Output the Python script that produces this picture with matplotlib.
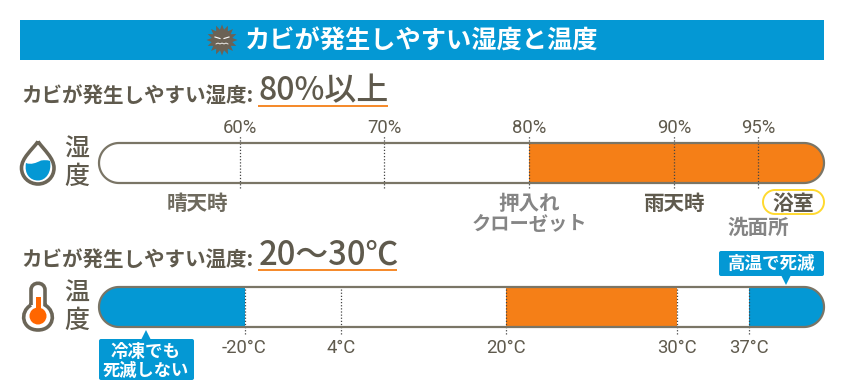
import matplotlib
matplotlib.use("Agg")
import matplotlib.pyplot as plt
import numpy as np
from matplotlib.patches import FancyBboxPatch, Rectangle, Circle, PathPatch, Polygon
from matplotlib.path import Path

plt.rcParams['font.family'] = ['Noto Sans CJK JP', 'DejaVu Sans']

title = "カビが発生しやすい湿度と温度"
sub_hum = "カビが発生しやすい湿度:"
sub_tmp = "カビが発生しやすい温度:"
big_hum = "80%以上"
big_tmp = "20〜30℃"

# humidity bar
hum_ticks = [60, 70, 80, 90, 95]
hum_labels = ["60%", "70%", "80%", "90%", "95%"]
hum_range = [50, 100]
hum_risk = [80, 100]
# temperature bar
tmp_ticks = [-20, 4, 20, 30, 37]
tmp_labels = ["-20°C", "4°C", "20°C", "30°C", "37°C"]
tmp_range = [-50, 60]
tmp_risk = [20, 30]
tmp_cold = [-50, -20]
tmp_hot = [37, 60]

# the scales are uneven, these are the pixel places of the ticks
hum_px = [99, 240, 384.5, 529, 674, 758, 824]
tmp_px = [99, 244.5, 341, 506, 677, 749, 824]

BLUE = "#0498d4"
ORANGE = "#f57f17"
DARK = "#5f5a4d"
LINE = "#7a7566"
GRAY = "#858585"

W, H = 844, 390
fig = plt.figure(figsize=(W / 100, H / 100), dpi=100)
px = fig.add_axes([0, 0, 1, 1])
px.set_xlim(0, W)
px.set_ylim(H, 0)
px.axis("off")


def stadium(x0, x1, y0, y1):
    # outline with fully round ends
    r = (y1 - y0) / 2
    a = np.linspace(-np.pi / 2, np.pi / 2, 40)
    right = np.c_[x1 - r + r * np.cos(a), y0 + r + r * np.sin(a)]
    left = np.c_[x0 + r - r * np.cos(a[::-1]), y0 + r + r * np.sin(a[::-1])]
    return np.vstack([right, left])


def bar_axes(top, vals, places, xlim):
    ax = fig.add_axes([99 / W, 1 - (top + 40) / H, 725 / W, 40 / H])
    ax.patch.set_alpha(0)
    vals = np.array(vals, dtype=float)
    places = np.array(places, dtype=float)
    ax.set_xscale("function", functions=(lambda v: np.interp(v, vals, places),
                                         lambda p: np.interp(p, places, vals)))
    ax.set_xlim(xlim)
    ax.set_ylim(0, 1)
    for s in ax.spines.values():
        s.set_visible(False)
    ax.set_yticks([])
    outline = stadium(99, 824, top, top + 40)
    shape = Polygon(outline, transform=px.transData, fc="white", ec="none")
    edge = Polygon(outline, transform=px.transData, fc="none", ec=LINE, lw=1.6, zorder=6, clip_on=False)
    ax.add_artist(shape)
    ax.add_artist(edge)
    return ax, shape


def ticks(ax, vals, labels, side, low, high, pad):
    ax.set_xticks(vals)
    ax.set_xticklabels(labels, fontsize=13.3, color=DARK, family=['Roboto', 'Noto Sans CJK JP'])
    ax.tick_params(axis="x", length=0, pad=pad, top=side == "top", bottom=side == "bottom",
                   labeltop=side == "top", labelbottom=side == "bottom")
    ax.minorticks_off()
    ax.vlines(vals, low, high, color="#444444", lw=0.9, linestyles=(0, (1, 1.5)),
              clip_on=False, zorder=5)


def band(ax, shape, span, color):
    b = ax.barh(0.5, span[1] - span[0], left=span[0], height=1, color=color, zorder=2)
    for r in b:
        r.set_clip_path(shape)


def under(x0, x1, y):
    px.plot([x0, x1], [y, y], color=ORANGE, lw=1.3, solid_capstyle="butt")


def callout(x0, x1, y0, y1, tip_x, tip_y, base_y):
    px.add_patch(FancyBboxPatch((x0 + 2, y0 + 2), x1 - x0 - 4, y1 - y0 - 4,
                                boxstyle="round,pad=2,rounding_size=2", fc=BLUE, ec="none"))
    px.add_patch(Polygon([(tip_x - 5, base_y), (tip_x + 5, base_y), (tip_x, tip_y)], fc=BLUE, ec="none"))


# header
px.add_patch(Rectangle((20, 20), 804, 40, fc=BLUE, ec="none"))
px.text(422, 41, title, color="white", fontsize=18.2, fontweight="bold", ha="center", va="center")

# mold icon
ang = np.linspace(0, 2 * np.pi, 32, endpoint=False)
rad = np.where(np.arange(32) % 2 == 0, 15.5, 10.5)
px.add_patch(Polygon(np.c_[222 + rad * np.cos(ang), 40 + rad * np.sin(ang)], fc="#6b6255", ec="none"))
for sx in (-1, 1):
    px.plot([222 + sx * 2, 222 + sx * 7], [38.5, 37], color="white", lw=0.8)
px.plot(np.arange(216, 229, 2), [44, 43, 44, 43, 44, 43, 44], color="white", lw=0.6)

# subtitles
px.text(21, 96.5, sub_hum, color=DARK, fontsize=14.8, fontweight="bold", ha="left", va="center")
px.text(258, 91, big_hum, color=DARK, fontsize=23, fontweight="medium", ha="left", va="center")
under(258, 388, 106)
px.text(21, 260, sub_tmp, color=DARK, fontsize=14.8, fontweight="bold", ha="left", va="center")
px.text(259, 255, big_tmp, color=DARK, fontsize=23.6, fontweight="medium", ha="left", va="center")
under(258, 397, 270)

# left labels
for y, c in zip((150, 177), "湿度"):
    px.text(76.5, y, c, color=DARK, fontsize=18, fontweight="medium", ha="center", va="center")
for y, c in zip((294, 321), "温度"):
    px.text(76.5, y, c, color=DARK, fontsize=18, fontweight="medium", ha="center", va="center")

# drop icon
drop = Path([(38, 141.5), (32, 150), (21.5, 158), (21.5, 168), (21.5, 177), (29, 184), (38, 184),
             (47, 184), (54, 177), (54, 168), (54, 158), (44, 150), (38, 141.5)],
            [Path.MOVETO] + [Path.CURVE4] * 12)
water = Path([(26, 163), (31, 165), (36, 163), (41, 160.5), (45, 160), (48, 160), (50, 161),
              (52, 172), (46, 180.5), (38, 180.5), (30, 180.5), (24, 174), (26, 163)],
             [Path.MOVETO] + [Path.CURVE4] * 12)
px.add_patch(PathPatch(water, fc=BLUE, ec="none"))
px.add_patch(PathPatch(drop, fc="none", ec="#6b6557", lw=2.6))

# thermometer icon
th = Path([(31, 305), (31, 290), (31, 281), (45, 281), (45, 290), (45, 305),
           (57, 312), (54, 330), (38, 330), (22, 330), (19, 312), (31, 305)],
          [Path.MOVETO, Path.LINETO, Path.CURVE4, Path.CURVE4, Path.CURVE4, Path.LINETO,
           Path.CURVE4, Path.CURVE4, Path.CURVE4, Path.CURVE4, Path.CURVE4, Path.CURVE4])
px.add_patch(PathPatch(th, fc="none", ec="#6b6557", lw=2.6))
px.add_patch(Circle((38, 316), 8.5, fc="#ff6600", ec="none"))
px.add_patch(Rectangle((35.5, 297), 5, 14, fc="#ff6600", ec="none"))

# humidity bar
ax1, s1 = bar_axes(143, [hum_range[0]] + hum_ticks + [hum_range[1]], hum_px, hum_range)
band(ax1, s1, hum_risk, ORANGE)
ticks(ax1, hum_ticks, hum_labels, "top", -0.125, 1.175, 4.5)

# temperature bar
ax2, s2 = bar_axes(287, [tmp_range[0]] + tmp_ticks + [tmp_range[1]], tmp_px, tmp_range)
band(ax2, s2, tmp_risk, ORANGE)
band(ax2, s2, tmp_cold, BLUE)
band(ax2, s2, tmp_hot, BLUE)
ticks(ax2, tmp_ticks, tmp_labels, "bottom", -0.175, 1, 8.5)

# place names
px.text(197, 203, "晴天時", color="#6e6a5e", fontsize=14.8, fontweight="bold", ha="center", va="center")
px.text(529, 203, "押入れ", color=GRAY, fontsize=14.8, fontweight="bold", ha="center", va="center")
px.text(529, 224.5, "クローゼット", color=GRAY, fontsize=13.9, fontweight="bold", ha="center", va="center")
px.text(674, 203, "雨天時", color=DARK, fontsize=14.8, fontweight="bold", ha="center", va="center")
px.add_patch(Polygon(stadium(763, 824, 190, 214), fc="white", ec="#ffd92f", lw=1.4, zorder=3))
px.text(793.5, 203, "浴室", color=DARK, fontsize=15, fontweight="bold", ha="center", va="center", zorder=4)
px.text(758, 227.5, "洗面所", color=GRAY, fontsize=14.8, fontweight="bold", ha="center", va="center")

# callouts
callout(99, 194, 339, 380, 146, 330, 340)
px.text(146, 352, "冷凍でも", color="white", fontsize=12.6, fontweight="bold", ha="center", va="center")
px.text(146, 371, "死滅しない", color="white", fontsize=12.4, fontweight="bold", ha="center", va="center")
callout(719, 824, 251, 276, 786, 285, 275)
px.text(771.5, 264, "高温で死滅", color="white", fontsize=12.6, fontweight="bold", ha="center", va="center")

fig.savefig("out.png", dpi=100, facecolor="white")
